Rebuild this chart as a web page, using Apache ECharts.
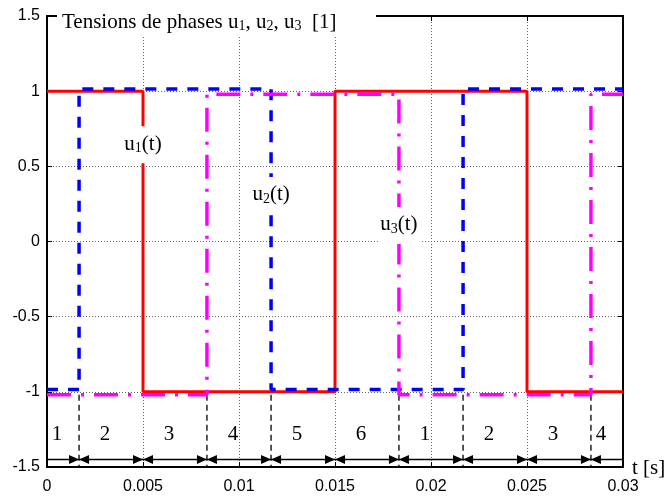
<!DOCTYPE html>
<html>
<head>
<meta charset="utf-8">
<script src="https://cdn.jsdelivr.net/npm/echarts@6/dist/echarts.min.js"></script>
<style>
  html, body { margin: 0; padding: 0; background: #fff; }
  #chart { width: 668px; height: 496px; }
</style>
</head>
<body>
<div id="chart"></div>
<script>
// Phase voltages: switching instants [s] and the level held after each one [p.u.]
const u1Times  = [0, 0.005, 0.015, 0.025, 0.03];
const u1Levels = [1, -1, 1, -1];
const u2Times  = [0, 0.00167, 0.01167, 0.02167, 0.03];
const u2Levels = [-0.985, 1.015, -0.985, 1.015];
const u3Times  = [0, 0.00833, 0.01833, 0.02833, 0.03];
const u3Levels = [-1.02, 0.98, -1.02, 0.98];

// Sector boundaries on the time axis and the sector numbers between them
const sectorBounds = [0, 0.00167, 0.005, 0.00833, 0.01167, 0.015, 0.01833, 0.02167, 0.025, 0.02833, 0.03];
const sectorNames  = ['1', '2', '3', '4', '5', '6', '1', '2', '3', '4'];
const sectorMarks  = [0.00167, 0.00833, 0.01167, 0.01833, 0.02167, 0.02833];

// Curve names with their anchor (switching instant, level)
const waveNames   = ['1', '2', '3'];
const waveAnchors = [[0.005, 0.647], [0.01167, 0.31], [0.01833, 0.11]];

// Axis ranges and tick steps
const xRange = [0, 0.03];
const xStep = 0.005;
const yRange = [-1.5, 1.5];
const yStep = 0.5;

const SERIF = '"Liberation Serif", "Times New Roman", serif';
const SANS = '"Liberation Sans", Arial, sans-serif';
const arrowLevel = -1.45;
const sectorTextLevel = -1.287;

function stepPoints(times, levels) {
  const pts = [];
  for (let i = 0; i < levels.length; i++) {
    pts.push([times[i], levels[i]], [times[i + 1], levels[i]]);
  }
  return pts;
}

const subRich = {
  a: { fontFamily: SERIF, fontSize: 21, color: '#000' },
  s: { fontFamily: SERIF, fontSize: 14, color: '#000', padding: [9, 0, 0, 0] }
};

const chart = echarts.init(document.getElementById('chart'), null, { renderer: 'canvas' });

const axisCommon = {
  type: 'value',
  axisLine: { show: true, onZero: false, lineStyle: { color: '#000', width: 2 } },
  axisTick: { show: true, inside: true, length: 5, lineStyle: { color: '#000', width: 1 } }
};

chart.setOption({
  animation: false,
  backgroundColor: '#fff',
  grid: { left: 47, right: 45, top: 16, bottom: 29 },
  xAxis: [
    Object.assign({}, axisCommon, {
      min: xRange[0], max: xRange[1], interval: xStep, position: 'bottom',
      axisLabel: { color: '#000', fontFamily: SANS, fontSize: 16, margin: 12 },
      splitLine: { show: true, lineStyle: { color: '#666', width: 1, type: [1, 2] } }
    }),
    Object.assign({}, axisCommon, {
      min: xRange[0], max: xRange[1], interval: xStep, position: 'top',
      axisLabel: { show: false }, splitLine: { show: false }
    })
  ],
  yAxis: [
    Object.assign({}, axisCommon, {
      min: yRange[0], max: yRange[1], interval: yStep, position: 'left',
      axisLabel: { color: '#000', fontFamily: SANS, fontSize: 16, margin: 7 },
      splitLine: { show: true, lineStyle: { color: '#666', width: 1, type: [1, 2] } }
    }),
    Object.assign({}, axisCommon, {
      min: yRange[0], max: yRange[1], interval: yStep, position: 'right',
      axisLabel: { show: false }, splitLine: { show: false }
    })
  ],
  graphic: [
    {
      type: 'rect', z: 100, silent: true,
      shape: { x: 57, y: 0, width: 319, height: 37 },
      style: { fill: '#fff' }
    },
    {
      type: 'text', z: 101, silent: true, x: 62, y: 22,
      style: {
        text: '{a|Tensions de phases u}{s|1}{a|, u}{s|2}{a|, u}{s|3}{a|  [1]}',
        rich: subRich, verticalAlign: 'middle', align: 'left'
      }
    },
    {
      type: 'text', z: 101, silent: true, x: 632, y: 468,
      style: { text: 't [s]', font: '21px ' + SERIF, fill: '#000', verticalAlign: 'middle', align: 'left' }
    }
  ],
  series: [
    {
      name: 'u1', type: 'line', data: stepPoints(u1Times, u1Levels),
      symbol: 'none', lineStyle: { color: '#ff0000', width: 3 }
    },
    {
      name: 'u2', type: 'line', data: stepPoints(u2Times, u2Levels),
      symbol: 'none', lineStyle: { color: '#0000ff', width: 3.5, type: [11, 10] }
    },
    {
      name: 'u3', type: 'line', data: stepPoints(u3Times, u3Levels),
      symbol: 'none', lineStyle: { color: '#ff00ff', width: 3.5, type: [24, 10, 3, 10] }
    },
    {
      // dashed markers dropping from the waveforms to the time axis
      type: 'custom', data: sectorMarks.map(t => [t, -1.02]),
      renderItem(params, api) {
        const p0 = api.coord([api.value(0), api.value(1)]);
        const p1 = api.coord([api.value(0), yRange[0]]);
        return {
          type: 'line',
          shape: { x1: p0[0], y1: p0[1], x2: p1[0], y2: p1[1] },
          style: { stroke: '#000', lineWidth: 1.3, lineDash: [6, 4] }
        };
      }
    },
    {
      // double-headed arrows spanning each sector
      type: 'custom', data: sectorNames.map((n, i) => [sectorBounds[i], sectorBounds[i + 1]]),
      renderItem(params, api) {
        const a = api.coord([api.value(0), arrowLevel]);
        const b = api.coord([api.value(1), arrowLevel]);
        const L = 10, H = 4.5;
        const kids = [{
          type: 'line',
          shape: { x1: a[0], y1: a[1], x2: b[0], y2: b[1] },
          style: { stroke: '#000', lineWidth: 1.5 }
        }];
        if (params.dataIndex > 0) {
          kids.push({ type: 'polygon', shape: { points: [[a[0], a[1]], [a[0] + L, a[1] - H], [a[0] + L, a[1] + H]] }, style: { fill: '#000' } });
        }
        if (params.dataIndex < sectorNames.length - 1) {
          kids.push({ type: 'polygon', shape: { points: [[b[0], b[1]], [b[0] - L, b[1] - H], [b[0] - L, b[1] + H]] }, style: { fill: '#000' } });
        }
        return { type: 'group', children: kids };
      }
    },
    {
      // sector numbers
      type: 'custom', data: sectorNames.map((n, i) => [(sectorBounds[i] + sectorBounds[i + 1]) / 2, sectorTextLevel]),
      renderItem(params, api) {
        const p = api.coord([api.value(0), api.value(1)]);
        return {
          type: 'text', x: p[0] - 6, y: p[1],
          style: { text: sectorNames[params.dataIndex], font: '21px ' + SERIF, fill: '#000', align: 'center', verticalAlign: 'middle' }
        };
      }
    },
    {
      // curve names on a white patch
      type: 'custom', z: 10, data: waveAnchors,
      renderItem(params, api) {
        const p = api.coord([api.value(0), api.value(1)]);
        return {
          type: 'group',
          children: [
            {
              type: 'rect',
              shape: { x: p[0] - 21, y: p[1] - 18, width: 42, height: 37 },
              style: { fill: '#fff' }
            },
            {
              type: 'text', x: p[0], y: p[1],
              style: {
                text: '{a|u}{s|' + waveNames[params.dataIndex] + '}{a|(t)}',
                rich: subRich, align: 'center', verticalAlign: 'middle'
              }
            }
          ]
        };
      }
    }
  ]
});
</script>
</body>
</html>
